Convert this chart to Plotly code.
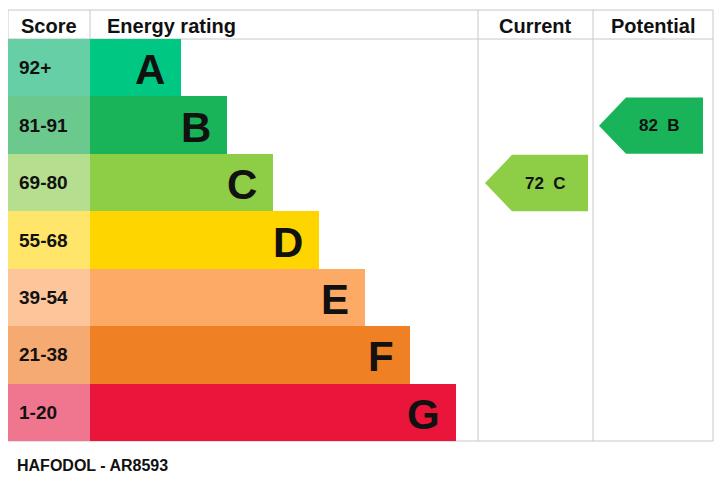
import plotly.graph_objects as go

letters = ["A", "B", "C", "D", "E", "F", "G"]
score_labels = ["92+", "81-91", "69-80", "55-68", "39-54", "21-38", "1-20"]
band_min = [92, 81, 69, 55, 39, 21, 1]
bar_ends = [181, 227, 273, 319, 365, 410, 456]
bar_colors = ["#00c781", "#19b459", "#8dce46", "#ffd500", "#fcaa65", "#ef8023", "#e9153b"]
score_colors = ["#66cfa6", "#6cc98e", "#b5de8e", "#ffe56a", "#fdc59a", "#f4aa70", "#f07690"]
current = 72
potential = 82
title_text = "HAFODOL - AR8593"

W, H = 727, 488
OFF = 8  # page body margin compensation
L, R, T, B = 8, 713, 10, 441
SCORE_R, BAR_L = 90, 90
CUR_L, POT_L = 478, 593
HDR_B = 39
row_h = (B - HDR_B) / 7
row_top = [HDR_B + i * row_h for i in range(7)]
font = "Liberation Sans, Arial, sans-serif"

fig = go.Figure()
fig.add_trace(go.Bar(y=[t + row_h / 2 for t in row_top], x=[SCORE_R - L] * 7, base=L,
                     orientation="h", width=row_h, marker=dict(color=score_colors, line_width=0),
                     hoverinfo="skip"))
fig.add_trace(go.Bar(y=[t + row_h / 2 for t in row_top], x=[e - BAR_L for e in bar_ends], base=BAR_L,
                     orientation="h", width=row_h, marker=dict(color=bar_colors, line_width=0),
                     hoverinfo="skip"))

def band_of(v):
    for i, m in enumerate(band_min):
        if v >= m:
            return i
    return 6

shapes = []
lc = "#c8c8c8"
shapes.append(dict(type="rect", x0=L, x1=R, y0=T, y1=B, line=dict(color=lc, width=1), layer="below"))
shapes.append(dict(type="line", x0=L, x1=R, y0=HDR_B, y1=HDR_B, line=dict(color=lc, width=1), layer="below"))
for xv in [SCORE_R, CUR_L, POT_L]:
    shapes.append(dict(type="line", x0=xv, x1=xv, y0=T, y1=B, line=dict(color=lc, width=1), layer="below"))

annotations = []
for xc, txt in [((L + SCORE_R) / 2, "Score"), (BAR_L + 15, "Energy rating"),
                ((CUR_L + POT_L) / 2, "Current"), ((POT_L + R) / 2, "Potential")]:
    annotations.append(dict(x=xc, y=(T + HDR_B) / 2 + 1, text="<b>%s</b>" % txt, showarrow=False,
                            xanchor="left" if txt == "Energy rating" else "center",
                            font=dict(size=20, color="#111", family=font)))
for i in range(7):
    yc = row_top[i] + row_h / 2
    annotations.append(dict(x=L + 9, y=yc, text="<b>%s</b>" % score_labels[i], showarrow=False,
                            xanchor="left", font=dict(size=19, color="#111", family=font)))
    annotations.append(dict(x=bar_ends[i] - 14, y=yc + 2, text="<b>%s</b>" % letters[i], showarrow=False,
                            xanchor="right", font=dict(size=42, color="#111", family=font)))

for val, x0, x1 in [(current, 485, 588), (potential, 599, 703)]:
    i = band_of(val)
    t = row_top[i] + 1
    b = t + row_h - 1
    yc = (t + b) / 2
    head = 27
    fig.add_trace(go.Scatter(x=[x0, x0 + head, x1, x1, x0 + head, x0], y=[yc, t, t, b, b, yc],
                             fill="toself", fillcolor=bar_colors[i], line=dict(width=0),
                             mode="lines", hoverinfo="skip"))
    annotations.append(dict(x=(x0 + head + x1) / 2 - 5, y=yc, text="<b>%d  %s</b>" % (val, letters[i]),
                            showarrow=False, font=dict(size=17, color="#111", family=font)))

annotations.append(dict(x=15, y=465, text="<b>%s</b>" % title_text, showarrow=False, xanchor="left",
                        font=dict(size=16, color="#111", family=font)))

fig.update_layout(width=W, height=H, margin=dict(l=0, r=0, t=0, b=0), showlegend=False,
                  plot_bgcolor="white", paper_bgcolor="white", bargap=0, barmode="overlay",
                  shapes=shapes, annotations=annotations,
                  xaxis=dict(range=[OFF, W + OFF], visible=False, fixedrange=True),
                  yaxis=dict(range=[H + OFF, OFF], visible=False, fixedrange=True))
fig.write_html("out.html")
